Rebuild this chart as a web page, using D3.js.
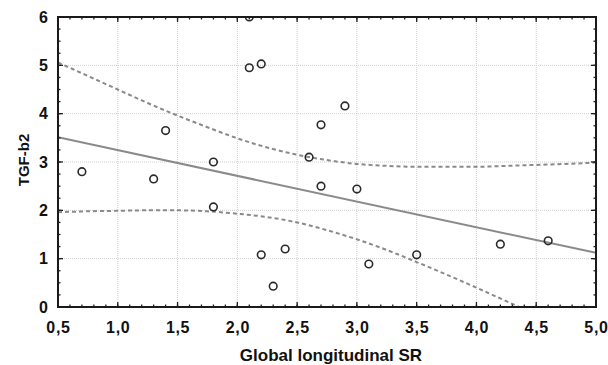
<!DOCTYPE html>
<html>
<head>
<meta charset="utf-8">
<script src="https://cdn.jsdelivr.net/npm/d3@7"></script>
<style>
  body { margin: 0; background: #fff; }
  text { font-family: "Liberation Sans", Arial, sans-serif; }
</style>
</head>
<body>
<div id="chart"></div>
<script>
// scatter points
var gls = [0.7, 1.3, 1.4, 1.8, 1.8, 2.1, 2.1, 2.2, 2.2, 2.3, 2.4, 2.6, 2.7, 2.7, 2.9, 3.0, 3.1, 3.5, 4.2, 4.6];
var tgf = [2.8, 2.65, 3.65, 3.0, 2.07, 6.0, 4.95, 5.03, 1.08, 0.43, 1.2, 3.1, 3.77, 2.5, 4.16, 2.44, 0.89, 1.08, 1.3, 1.37];

// fitted line ends
var fitX = [0.5, 5.0];
var fitY = [3.51, 1.12];

var bandX = [0.5, 0.75, 1.0, 1.25, 1.5, 1.75, 2.0, 2.25, 2.5, 2.75, 3.0, 3.25, 3.5, 3.75, 4.0, 4.25, 4.5, 4.75, 5.0];
var bandUp = [5.06, 4.78, 4.50, 4.22, 3.96, 3.72, 3.49, 3.30, 3.15, 3.04, 2.96, 2.92, 2.90, 2.90, 2.90, 2.92, 2.94, 2.96, 2.99];
var bandLo = [1.96, 1.98, 1.99, 2.00, 2.00, 1.98, 1.93, 1.86, 1.75, 1.59, 1.40, 1.18, 0.93, 0.67, 0.40, 0.12, -0.16, -0.45, -0.75];

var xTicks = [0.5, 1.0, 1.5, 2.0, 2.5, 3.0, 3.5, 4.0, 4.5, 5.0];
var yTicks = [0, 1, 2, 3, 4, 5, 6];

var margin = { top: 17, right: 12, bottom: 58, left: 58 },
    width = 608 - margin.left - margin.right,
    height = 365 - margin.top - margin.bottom;

var svg = d3.select("#chart")
    .append("svg")
    .attr("width", 608)
    .attr("height", 365)
    .append("g")
    .attr("transform", "translate(" + margin.left + "," + margin.top + ")");

var x = d3.scaleLinear().domain([0.5, 5.0]).range([0, width]);
var y = d3.scaleLinear().domain([0, 6]).range([height, 0]);

svg.append("clipPath").attr("id", "clip")
    .append("rect").attr("width", width).attr("height", height);

// grid
svg.selectAll(".gx")
    .data(xTicks.slice(1, -1))
    .join("line")
    .attr("x1", d => x(d)).attr("x2", d => x(d))
    .attr("y1", 0).attr("y2", height)
    .style("stroke", "#cfcfcf").style("stroke-width", 1).style("stroke-dasharray", "1,1");
svg.selectAll(".gy")
    .data(yTicks.slice(1, -1))
    .join("line")
    .attr("y1", d => y(d)).attr("y2", d => y(d))
    .attr("x1", 0).attr("x2", width)
    .style("stroke", "#cfcfcf").style("stroke-width", 1).style("stroke-dasharray", "1,1");

var plot = svg.append("g").attr("clip-path", "url(#clip)");

// bands
[bandUp, bandLo].forEach(function (vals) {
    plot.append("path")
        .datum(bandX.map((v, i) => [v, vals[i]]))
        .attr("d", d3.line().x(d => x(d[0])).y(d => y(d[1])).curve(d3.curveMonotoneX))
        .style("fill", "none")
        .style("stroke", "#8a8a8a")
        .style("stroke-width", 2)
        .style("stroke-dasharray", "4,3");
});

// fit line
plot.append("line")
    .attr("x1", x(fitX[0])).attr("y1", y(fitY[0]))
    .attr("x2", x(fitX[1])).attr("y2", y(fitY[1]))
    .style("stroke", "#8a8a8a").style("stroke-width", 2);

// points
plot.selectAll(".pt")
    .data(gls.map((v, i) => [v, tgf[i]]))
    .join("circle")
    .attr("cx", d => x(d[0]))
    .attr("cy", d => y(d[1]))
    .attr("r", 3.8)
    .style("fill", "none")
    .style("stroke", "#2a2a2a")
    .style("stroke-width", 1.6);

// ticks (inward), all four sides
var xMinor = d3.range(5, 51).map(d => d / 10);
var yMinor = d3.range(0, 25).map(d => d / 4);
function tickLines(vals, isX, len, pos) {
    svg.selectAll(null)
        .data(vals)
        .join("line")
        .attr("x1", d => isX ? x(d) : pos)
        .attr("x2", d => isX ? x(d) : pos + len)
        .attr("y1", d => isX ? pos : y(d))
        .attr("y2", d => isX ? pos + len : y(d))
        .style("stroke", "#222").style("stroke-width", 1.3);
}
tickLines(xMinor, true, -2.5, height);
tickLines(xMinor, true, 2.5, 0);
tickLines(xTicks, true, -5, height);
tickLines(xTicks, true, 5, 0);
tickLines(yMinor, false, 2.5, 0);
tickLines(yMinor, false, -2.5, width);
tickLines(yTicks, false, 5, 0);
tickLines(yTicks, false, -5, width);

// frame
svg.append("rect")
    .attr("width", width).attr("height", height)
    .style("fill", "none").style("stroke", "#1a1a1a").style("stroke-width", 2);

// tick labels
svg.selectAll(".xl")
    .data(xTicks)
    .join("text")
    .attr("x", d => x(d) + 0.5)
    .attr("y", height + 26)
    .attr("text-anchor", "middle")
    .style("font-size", "16px").style("font-weight", "bold").style("fill", "#111")
    .style("letter-spacing", "0.7px")
    .text(d => d.toFixed(1).replace(".", ","));
svg.selectAll(".yl")
    .data(yTicks)
    .join("text")
    .attr("x", -10)
    .attr("y", d => y(d))
    .attr("dy", "0.36em")
    .attr("text-anchor", "end")
    .style("font-size", "16px").style("font-weight", "bold").style("fill", "#111")
    .text(d => d);

// axis titles
svg.append("text")
    .attr("x", width / 2 + 4)
    .attr("y", height + 54)
    .attr("text-anchor", "middle")
    .style("font-size", "17px").style("font-weight", "bold").style("fill", "#111")
    .text("Global longitudinal SR");
svg.append("text")
    .attr("transform", "translate(" + (-29) + "," + (height / 2 - 2) + ") rotate(-90)")
    .attr("text-anchor", "middle")
    .style("font-size", "15px").style("font-weight", "bold").style("fill", "#111")
    .text("TGF-b2");
</script>
</body>
</html>
